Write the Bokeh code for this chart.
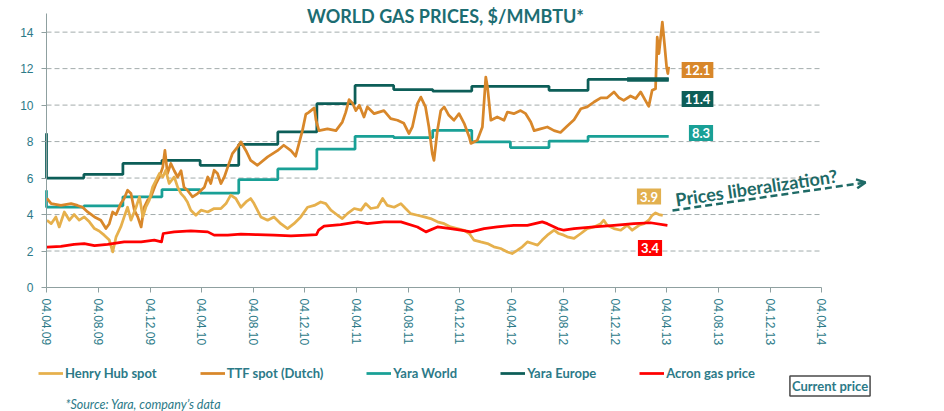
import calendar
import math
from datetime import datetime, timedelta

from bokeh.plotting import figure
from bokeh.models import (Range1d, FixedTicker, DatetimeTickFormatter, Label,
                          Legend, LegendItem, Arrow, OpenHead)
from bokeh.embed import file_html
from bokeh.resources import INLINE

# ---------------- data ----------------
base_date = "2009-04-04"          # day 0 of every *_day list
x_tick_labels = ["04.04.09", "04.08.09", "04.12.09", "04.04.10", "04.08.10", "04.12.10",
                 "04.04.11", "04.08.11", "04.12.11", "04.04.12", "04.08.12", "04.12.12",
                 "04.04.13", "04.08.13", "04.12.13", "04.04.14"]
y_ticks = [0, 2, 4, 6, 8, 10, 12, 14]

ttf_day = [1, 11, 34, 58, 73, 85, 97, 113, 128, 140,
           148, 156, 164, 175, 183, 191, 199, 207, 215, 223,
           230, 238, 246, 258, 266, 274, 279, 285, 293, 301,
           309, 317, 324, 332, 344, 356, 372, 380, 387, 395,
           403, 411, 419, 427, 438, 450, 458, 470, 481, 497,
           521, 544, 559, 576, 587, 595, 603, 611, 618, 631,
           635, 642, 662, 682, 697, 705, 713, 721, 729, 737,
           748, 756, 772, 795, 811, 827, 842, 854, 862, 874,
           882, 893, 901, 909, 913, 921, 929, 937, 948, 960,
           972, 984, 996, 1000, 1015, 1027, 1035, 1039, 1047, 1062,
           1078, 1086, 1101, 1117, 1129, 1141, 1149, 1164, 1180, 1196,
           1211, 1227, 1243, 1259, 1274, 1290, 1306, 1321, 1337, 1349,
           1360, 1376, 1388, 1400, 1411, 1419, 1427, 1435, 1439, 1443,
           1451, 1456, 1461, 1464, 1466]
ttf_price = [4.88, 4.6, 4.5, 4.6, 4.5, 4.4, 4.14, 3.87, 3.69, 3.23,
             3.5, 4.14, 4.0, 4.6, 4.88, 5.33, 5.15, 4.24, 3.87, 3.32,
             4.4, 4.78, 4.97, 5.7, 6.06, 6.6, 7.52, 6.25, 6.8, 6.4,
             6.06, 6.4, 5.5, 5.33, 4.97, 5.15, 5.5, 6.06, 5.7, 6.43,
             6.25, 5.7, 6.06, 6.6, 7.34, 7.7, 7.98, 7.5, 6.97, 6.7,
             7.16, 7.5, 7.8, 7.5, 7.2, 7.9, 8.6, 9.5, 9.6, 9.85,
             9.17, 8.6, 8.7, 8.6, 9.07, 9.6, 10.3, 10.1, 9.7, 9.99,
             9.35, 9.9, 9.53, 9.7, 9.26, 9.17, 9.0, 8.44, 8.8, 10.08,
             10.44, 9.9, 8.8, 7.34, 6.97, 8.6, 9.7, 9.9, 9.44, 9.17,
             9.53, 9.0, 8.25, 7.9, 8.07, 8.8, 11.54, 11.0, 9.17, 9.35,
             9.17, 9.62, 9.53, 9.7, 9.53, 9.07, 8.6, 8.7, 8.8, 8.6,
             8.5, 8.85, 9.2, 9.8, 9.9, 10.17, 10.4, 10.4, 10.72, 10.4,
             10.26, 10.5, 10.36, 10.72, 10.26, 9.93, 10.81, 10.9, 13.73, 12.82,
             14.55, 13.37, 12.09, 11.73, 12.1]

hh_day = [1, 11, 22, 30, 42, 54, 65, 77, 89, 101,
          113, 124, 136, 148, 156, 164, 175, 183, 191, 199,
          211, 219, 227, 234, 242, 250, 258, 266, 274, 281,
          289, 301, 309, 317, 324, 332, 340, 352, 364, 380,
          395, 411, 423, 434, 446, 458, 470, 481, 489, 505,
          521, 536, 552, 568, 583, 599, 615, 631, 646, 658,
          670, 686, 697, 709, 725, 741, 752, 764, 780, 792,
          803, 819, 835, 846, 858, 874, 890, 905, 921, 937,
          952, 968, 984, 996, 1007, 1023, 1039, 1054, 1070, 1086,
          1097, 1109, 1121, 1133, 1145, 1157, 1168, 1180, 1196, 1207,
          1219, 1227, 1243, 1259, 1274, 1290, 1306, 1313, 1321, 1337,
          1353, 1368, 1380, 1396, 1408, 1419, 1427, 1435, 1443, 1452]
hh_price = [3.69, 3.5, 3.87, 3.32, 4.14, 3.69, 4.0, 3.69, 3.87, 3.6,
            3.23, 3.1, 2.87, 2.6, 1.95, 2.78, 3.32, 3.87, 4.4, 3.69,
            4.4, 4.97, 3.87, 4.4, 4.78, 5.5, 5.88, 6.25, 6.06, 6.43,
            5.7, 6.06, 5.5, 5.15, 4.97, 4.69, 4.24, 3.96, 4.24, 4.14,
            4.33, 4.33, 4.6, 5.06, 4.88, 4.4, 4.69, 4.88, 4.6, 3.87,
            3.69, 3.87, 3.5, 3.23, 3.5, 3.87, 4.4, 4.5, 4.69, 4.6,
            4.24, 3.96, 3.78, 4.05, 4.33, 4.24, 4.6, 4.33, 4.4, 4.88,
            4.5, 4.4, 4.6, 4.33, 4.05, 3.96, 3.87, 3.78, 3.6, 3.5,
            3.32, 3.23, 3.14, 2.96, 2.6, 2.5, 2.41, 2.23, 2.14, 1.95,
            1.86, 2.04, 2.23, 2.5, 2.41, 2.32, 2.6, 2.87, 3.14, 2.96,
            2.87, 2.78, 2.69, 2.96, 3.23, 3.32, 3.5, 3.69, 3.41, 3.23,
            3.14, 3.41, 3.14, 3.41, 3.5, 3.69, 3.96, 4.09, 4.0, 3.95]

acron_day = [1, 34, 65, 89, 113, 144, 183, 223, 254, 271,
             275, 301, 340, 380, 395, 427, 458, 497, 536, 576,
             615, 636, 641, 654, 693, 733, 756, 795, 835, 874,
             894, 921, 952, 976, 1000, 1031, 1062, 1101, 1133, 1168,
             1180, 1204, 1219, 1243, 1290, 1337, 1384, 1423, 1463]
acron_price = [2.22, 2.25, 2.37, 2.4, 2.3, 2.37, 2.5, 2.5, 2.6, 2.5,
               2.96, 3.05, 3.1, 3.05, 2.87, 2.87, 2.92, 2.9, 2.87, 2.83,
               2.87, 2.9, 3.14, 3.36, 3.45, 3.6, 3.5, 3.6, 3.6, 3.32,
               3.05, 3.32, 3.23, 3.14, 3.05, 3.23, 3.32, 3.41, 3.41, 3.6,
               3.5, 3.23, 3.14, 3.23, 3.32, 3.41, 3.5, 3.55, 3.41]

yara_dates = ["2009-04-04", "2009-04-04", "2009-07-01", "2009-10-01", "2010-01-01",
              "2010-04-01", "2010-07-01", "2010-10-01", "2011-01-01", "2011-04-01",
              "2011-07-01", "2011-10-01", "2012-01-01", "2012-04-01", "2012-07-01",
              "2012-10-01", "2013-01-01", "2013-04-09"]
yara_europe = [8.45, 6.0, 6.2, 6.8, 6.97, 6.7, 7.85, 8.53, 10.08, 11.08,
               10.85, 10.77, 11.03, 11.03, 10.81, 11.41, 11.41, 11.41]
yara_world = [5.33, 4.4, 4.47, 4.97, 5.37, 5.18, 5.92, 6.5, 7.58, 8.29,
              8.22, 8.62, 7.98, 7.67, 8.03, 8.29, 8.29, 8.29]

current_prices = [12.1, 11.4, 8.3, 3.9, 3.4]   # TTF, Yara Europe, Yara World, Henry Hub, Acron

# ---------------- helpers ----------------
def ms(d):
    return calendar.timegm(d.timetuple()) * 1000.0

start = datetime.strptime(base_date, "%Y-%m-%d")
tick_dates = [datetime.strptime(t, "%d.%m.%y") for t in x_tick_labels]

def days_to_dt(days):
    return [start + timedelta(days=d) for d in days]

yara_dt = [datetime.strptime(d, "%Y-%m-%d") for d in yara_dates]

C_HH = "#E6B04C"
C_TTF = "#D8872A"
C_YW = "#19A096"
C_YE = "#0D5E58"
C_ACRON = "#FF0000"
C_TEXT = "#2C7A88"
C_TITLE = "#1C6D72"
C_AXIS = "#8FA0A0"
TEXT_FONT = "Lato"
TICK_FONT = "Liberation Sans"
LW = 2.75

# page geometry (pixels); the plot frame covers the whole page
W, H = 944, 411
ORIG_X, ORIG_Y = 46, 287          # page position of (04.04.09, 0)
AX_W = 775                        # page width of the 5-year date axis
PX_PER_UNIT = 18.24               # vertical px per $/MMBTU

x0, x1 = ms(tick_dates[0]), ms(tick_dates[-1])
ms_per_px = (x1 - x0) / AX_W

def at(px, py):
    """page pixel -> data coordinates (used for annotation placement only)"""
    return (x0 + (px - ORIG_X) * ms_per_px, (ORIG_Y - py) / PX_PER_UNIT)

xa, ya = at(0, H)
xb, yb = at(W, 0)

p = figure(width=W, height=H, output_backend="svg", toolbar_location=None,
           x_axis_type="datetime", x_range=Range1d(xa, xb), y_range=Range1d(ya, yb),
           min_border=0)
p.outline_line_color = None
p.background_fill_color = "white"
p.border_fill_color = "white"
p.grid.visible = False

# dashed horizontal gridlines limited to the date axis
p.segment(x0=[x0] * (len(y_ticks) - 1), y0=y_ticks[1:], x1=[x1] * (len(y_ticks) - 1),
          y1=y_ticks[1:], line_color="#A3ACAC", line_dash="5 3", line_width=1)

# axes drawn at fixed positions inside the frame
for ax in (p.xaxis[0], p.yaxis[0]):
    ax.axis_line_color = C_AXIS
    ax.major_tick_line_color = C_AXIS
    ax.minor_tick_line_color = None
    ax.major_tick_out = 5
    ax.major_tick_in = 0
    ax.major_label_text_font = TICK_FONT
    ax.major_label_text_font_size = "12px"
    ax.major_label_text_color = C_TEXT

p.yaxis.ticker = FixedTicker(ticks=y_ticks)
p.yaxis.bounds = (0, 15)
p.yaxis.fixed_location = x0
p.yaxis.major_label_standoff = 8
p.xaxis.ticker = FixedTicker(ticks=[ms(d) for d in tick_dates])
p.xaxis.bounds = (x0, x1)
p.xaxis.fixed_location = 0
fmt = "%d.%m.%y"
p.xaxis.formatter = DatetimeTickFormatter(microseconds=fmt, milliseconds=fmt, seconds=fmt,
                                          minsec=fmt, minutes=fmt, hourmin=fmt, hours=fmt,
                                          days=fmt, months=fmt, years=fmt)
p.xaxis.major_label_orientation = -math.pi / 2
p.xaxis.major_label_standoff = 6

# series
r_yw = p.step(yara_dt, yara_world, mode="after", line_color=C_YW, line_width=LW)
r_ye = p.step(yara_dt, yara_europe, mode="after", line_color=C_YE, line_width=LW)
r_ttf = p.line(days_to_dt(ttf_day), ttf_price, line_color=C_TTF, line_width=LW, line_join="round")
r_hh = p.line(days_to_dt(hh_day), hh_price, line_color=C_HH, line_width=LW, line_join="round")
r_ac = p.line(days_to_dt(acron_day), acron_price, line_color=C_ACRON, line_width=LW, line_join="round")
# current-price segment (last quarter of Yara Europe)
p.line(yara_dt[-2:], yara_europe[-2:], line_color=C_YE, line_width=4.5)

# legend (frame-relative screen pixels: left, up from the page bottom)
legend = Legend(items=[LegendItem(label="Henry Hub spot", renderers=[r_hh]),
                       LegendItem(label="TTF spot (Dutch)", renderers=[r_ttf]),
                       LegendItem(label="Yara World", renderers=[r_yw]),
                       LegendItem(label="Yara Europe", renderers=[r_ye]),
                       LegendItem(label="Acron gas price", renderers=[r_ac])],
                orientation="horizontal", location=(38, 30), margin=0, padding=0,
                spacing=43, glyph_width=25, glyph_height=14, label_standoff=2,
                label_text_font=TEXT_FONT, label_text_font_style="bold",
                label_text_font_size="13px", label_text_color=C_TEXT,
                border_line_color=None, background_fill_alpha=0)
p.add_layout(legend)

# title
tx, ty = at(445, 15)
p.add_layout(Label(x=tx, y=ty, text="WORLD GAS PRICES, $/MMBTU*", text_align="center",
                   text_baseline="alphabetic", text_font=TEXT_FONT, text_font_style="bold",
                   text_font_size="18px", text_color=C_TITLE))

# current price boxes
boxes = [(697, 69.5, C_TTF), (697, 98.5, C_YE), (700.5, 132.5, C_YW),
         (648.5, 196, "#E2B04F"), (649.5, 247.5, C_ACRON)]
for val, (bx, by, col) in zip(current_prices, boxes):
    lx, ly = at(bx, by)
    p.add_layout(Label(x=lx, y=ly, text=f"{val:.1f}", text_align="center",
                       text_baseline="middle", text_font=TEXT_FONT, text_font_style="bold",
                       text_font_size="13px", text_color="white",
                       background_fill_color=col, padding=3))

# "Prices liberalization?" annotation
ax_, ay_ = at(672, 210)
bx_, by_ = at(865, 182)
p.add_layout(Arrow(x_start=ax_, y_start=ay_, x_end=bx_, y_end=by_,
                   line_color="#1E6A66", line_width=2.5, line_dash="7 4",
                   end=OpenHead(size=9, line_color="#1E6A66", line_width=2.5)))
lx, ly = at(675, 199)
p.add_layout(Label(x=lx, y=ly, text="Prices liberalization?", angle=8.5, angle_units="deg",
                   text_align="left", text_baseline="alphabetic", text_font=TEXT_FONT,
                   text_font_style="bold", text_font_size="18px", text_color="#1E6A66"))

# "Current price" box and footnote
lx, ly = at(829.5, 385.5)
p.add_layout(Label(x=lx, y=ly, text="Current price", text_align="center",
                   text_baseline="middle", text_font=TEXT_FONT, text_font_style="bold",
                   text_font_size="13px", text_color=C_TEXT, background_fill_color="white",
                   border_line_color="#4A4A4A", border_line_width=1.5, padding=2))
lx, ly = at(65, 404)
p.add_layout(Label(x=lx, y=ly, text="*Source: Yara, company\u2019s data", text_align="left",
                   text_baseline="middle", text_font=TEXT_FONT, text_font_style="italic",
                   text_font_size="12.5px", text_color=C_TEXT))

open("out.html", "w").write(file_html(p, INLINE))
